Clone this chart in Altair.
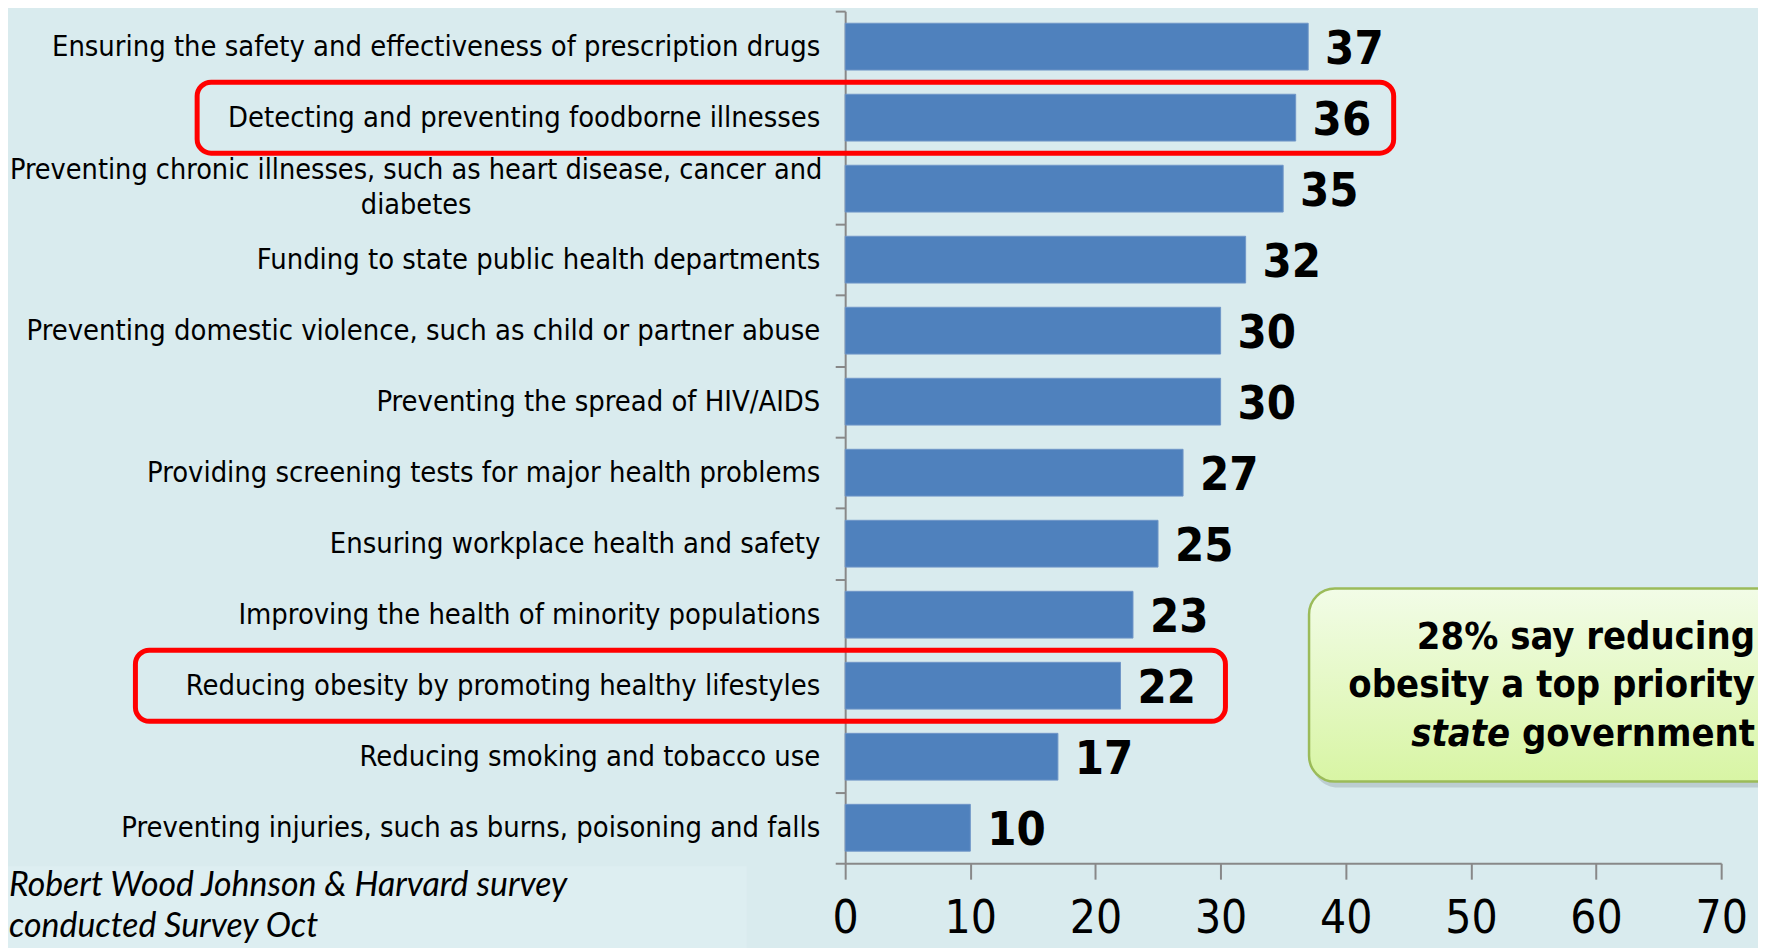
import altair as alt
import pandas as pd

# ---------------- data ----------------
categories = [
    "Ensuring the safety and effectiveness of prescription drugs",
    "Detecting and preventing foodborne illnesses",
    "Preventing chronic illnesses, such as heart disease, cancer and\ndiabetes",
    "Funding to state public health departments",
    "Preventing domestic violence, such as child or partner abuse",
    "Preventing the spread of HIV/AIDS",
    "Providing screening tests for major health problems",
    "Ensuring workplace health and safety",
    "Improving the health of minority populations",
    "Reducing obesity by promoting healthy lifestyles",
    "Reducing smoking and tobacco use",
    "Preventing injuries, such as burns, poisoning and falls",
]
values = [37, 36, 35, 32, 30, 30, 27, 25, 23, 22, 17, 10]
x_ticks = [0, 10, 20, 30, 40, 50, 60, 70]
highlighted = [categories[1], categories[9]]
callout_lines = ["28% say reducing", "obesity a top priority"]
callout_italic = "state"
callout_rest = "government"
source_lines = ["Robert Wood Johnson & Harvard survey", "conducted Survey Oct"]

# ---------------- layout / style ----------------
W, H = 880, 856            # plot area (pixels)
BG = "#d9ebee"
BAR = "#4f81bd"
AXIS_GRAY = "#888888"
LABEL_FONT = "DejaVu Sans Condensed"
RED = "#ff0000"

df = pd.DataFrame({"category": categories, "value": values})
df["wrapped"] = df["category"].str.contains("\n")

yscale = alt.Scale(domain=categories, paddingInner=0, paddingOuter=0)
xscale = alt.Scale(domain=[0, 70], nice=False, zero=True)
Y = alt.Y("category:N", scale=yscale, sort=None, title=None)

bars = alt.Chart(df).mark_bar(color=BAR, stroke="#7096c8", strokeWidth=1, height=47).encode(
    x=alt.X("value:Q", scale=xscale,
            axis=alt.Axis(values=x_ticks, title=None, grid=False,
                          domainColor=AXIS_GRAY, domainWidth=2,
                          tickColor=AXIS_GRAY, tickWidth=2, tickSize=16,
                          labelFont=LABEL_FONT, labelFontSize=46,
                          labelColor="black", labelPadding=18,
                          labelFlush=False)),
    y=alt.Y("category:N", scale=yscale, sort=None,
            axis=alt.Axis(title=None, tickBand="extent", tickSize=10,
                          tickColor=AXIS_GRAY, tickWidth=2,
                          domainColor=AXIS_GRAY, domainWidth=2,
                          labels=False)),
)

# category labels (drawn as text so the wrapped one can be centred)
cat_labels = alt.Chart(df).transform_filter("!datum.wrapped").mark_text(
    align="right", baseline="middle", font=LABEL_FONT, fontSize=29, color="black",
).encode(x=alt.value(-25), y=Y, text="category:N")
cat_labels_wrapped = alt.Chart(df).transform_filter("datum.wrapped").mark_text(
    align="center", baseline="middle", font=LABEL_FONT, fontSize=28.7, color="black",
    lineBreak="\n", lineHeight=35, dy=-19,
).encode(x=alt.value(-431), y=Y, text="category:N")

value_labels = alt.Chart(df).mark_text(
    align="left", baseline="middle", dx=17, dy=3,
    font=LABEL_FONT, fontSize=47, fontWeight="bold", color="black",
).encode(
    x=alt.X("value:Q", scale=xscale, title=None),
    y=Y,
    text=alt.Text("value:Q"),
)

# red highlight boxes around two rows
hl_left = [198 - 849, 136 - 849]
hl_right = [1400 - 849, 1231 - 849]
hl_df = pd.DataFrame({"category": highlighted})
highlight1 = alt.Chart(hl_df.iloc[[0]]).mark_rect(
    fill="transparent", stroke=RED, strokeWidth=5, cornerRadius=14,
).encode(x=alt.value(hl_left[0]), x2=alt.value(hl_right[0]), y=Y)
highlight2 = alt.Chart(hl_df.iloc[[1]]).mark_rect(
    fill="transparent", stroke=RED, strokeWidth=5, cornerRadius=14,
).encode(x=alt.value(hl_left[1]), x2=alt.value(hl_right[1]), y=Y)

one = pd.DataFrame({"k": [0]})

# source-note panel and text
src_panel = alt.Chart(one).mark_rect(fill="#ddeef1").encode(
    x=alt.value(-860), x2=alt.value(-99), y=alt.value(859), y2=alt.value(960))
src_style = dict(align="left", baseline="alphabetic", font="Lato",
                 fontStyle="italic", fontSize=34, color="black")
src1 = alt.Chart(one).mark_text(text=source_lines[0], **src_style).encode(
    x=alt.value(-840), y=alt.value(889))
src2 = alt.Chart(one).mark_text(text=source_lines[1], **src_style).encode(
    x=alt.value(-840), y=alt.value(930))

# callout box
grad = alt.Gradient(
    gradient="linear",
    stops=[alt.GradientStop(color="#f2fce7", offset=0),
           alt.GradientStop(color="#d8f5a4", offset=1)],
    x1=0, x2=0, y1=0, y2=1,
)
shadow = alt.Chart(one).mark_rect(fill="#9fb0b3", opacity=0.5, cornerRadius=26).encode(
    x=alt.value(469), x2=alt.value(1000), y=alt.value(585), y2=alt.value(780))
box = alt.Chart(one).mark_rect(fill=grad, stroke="#9bbb59", strokeWidth=2.5, cornerRadius=26).encode(
    x=alt.value(466), x2=alt.value(1000), y=alt.value(580), y2=alt.value(774))

RX = 914   # right edge of callout text
callout_style = dict(baseline="alphabetic", font=LABEL_FONT, fontSize=38,
                     fontWeight="bold", color="black")
c1 = alt.Chart(one).mark_text(text=callout_lines[0], align="right", **callout_style).encode(
    x=alt.value(RX), y=alt.value(641))
c2 = alt.Chart(one).mark_text(text=callout_lines[1], align="right", **callout_style).encode(
    x=alt.value(RX), y=alt.value(689))
c3b = alt.Chart(one).mark_text(text=callout_rest, align="right", **callout_style).encode(
    x=alt.value(RX), y=alt.value(738))
c3a = alt.Chart(one).mark_text(text=callout_italic, align="right", fontStyle="italic",
                               **callout_style).encode(x=alt.value(RX - 246), y=alt.value(738))

chart = alt.layer(
    src_panel, src1, src2, bars, cat_labels, cat_labels_wrapped, value_labels,
    highlight1, highlight2, shadow, box, c1, c2, c3a, c3b
).properties(
    width=W, height=H,
    autosize=alt.AutoSizeParams(type="none"),
    padding={"left": 841, "top": 1, "right": 37, "bottom": 83},
    background=BG,
).configure_view(stroke=None)

chart.save("out.html", embed_options={"renderer": "svg", "actions": False})
